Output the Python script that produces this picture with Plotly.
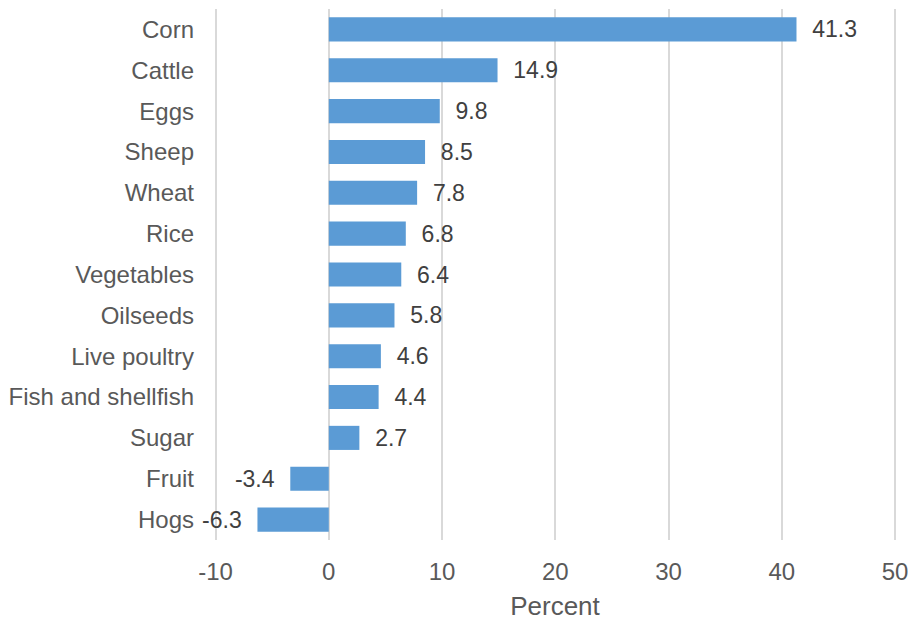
import plotly.graph_objects as go

categories = ["Corn", "Cattle", "Eggs", "Sheep", "Wheat", "Rice", "Vegetables",
              "Oilseeds", "Live poultry", "Fish and shellfish", "Sugar", "Fruit", "Hogs"]
values = [41.3, 14.9, 9.8, 8.5, 7.8, 6.8, 6.4, 5.8, 4.6, 4.4, 2.7, -3.4, -6.3]
x_ticks = [-10, 0, 10, 20, 30, 40, 50]
x_tick_text = ["-10", "0", "10", "20", "30", "40", "50"]

NBSP = "\u00a0"
# pad the value labels away from the bar ends
labels = [(NBSP * 2 + f"{v:.1f}") if v >= 0 else (f"{v:.1f}" + NBSP * 2) for v in values]

fig = go.Figure(go.Bar(
    x=values,
    y=categories,
    orientation="h",
    marker=dict(color="#5B9BD5", line=dict(width=0)),
    text=labels,
    textposition="outside",
    constraintext="none",
    textfont=dict(family="Liberation Sans, Arial", size=23, color="#404040"),
    cliponaxis=False,
))

fig.update_layout(
    width=908, height=621,
    margin=dict(l=210, r=8, t=9, b=81),
    paper_bgcolor="white", plot_bgcolor="white",
    bargap=0.41,
    showlegend=False,
    font=dict(family="Liberation Sans, Arial", size=24, color="#595959"),
    xaxis=dict(
        # a little slack on both ends so the -10 and 50 grid lines are drawn
        range=[-10.49, 50.44],
        tickvals=x_ticks,
        ticktext=x_tick_text,
        showgrid=True, gridcolor="#d9d9d9", gridwidth=1.5,
        zeroline=True, zerolinecolor="#d9d9d9", zerolinewidth=2,
        showline=False,
        automargin=False,
        ticklabeloverflow="allow",
        ticklabelstandoff=15,
        title=dict(text="Percent", font=dict(size=26, color="#595959"), standoff=14),
        tickfont=dict(size=24, color="#595959"),
    ),
    yaxis=dict(
        categoryorder="array",
        categoryarray=categories[::-1],
        showgrid=False, showline=False,
        automargin=False,
        ticklabelstandoff=15,
        tickfont=dict(size=24, color="#595959"),
    ),
)

fig.write_html("out.html")
